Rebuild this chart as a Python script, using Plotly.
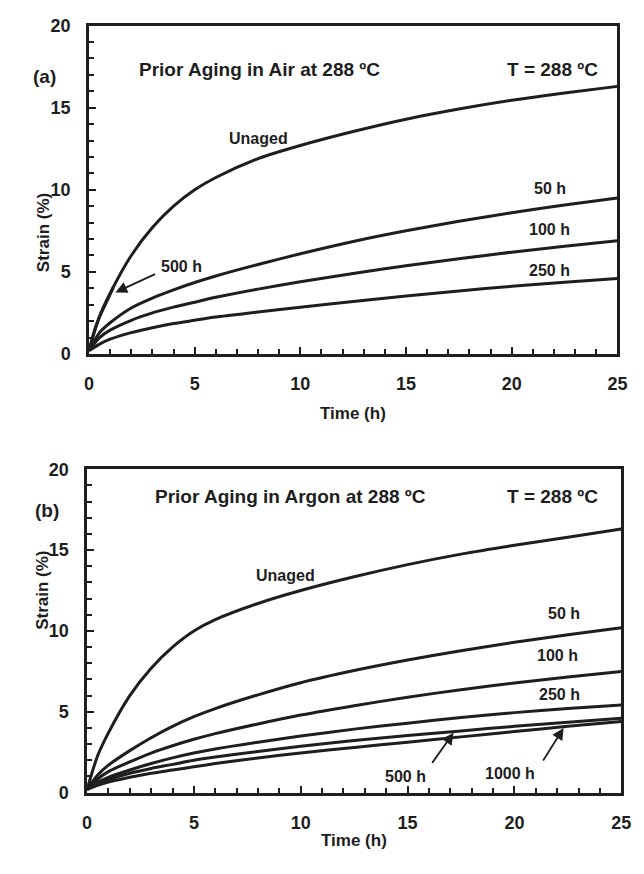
import plotly.graph_objects as go

# ---------------- data (a) Prior aging in air ----------------
t_a = [0, 0.5, 1, 2, 3, 4, 5, 6, 8, 10, 12.5, 15, 17.5, 20, 22.5, 25]
s_a_unaged = [0.2, 2.3, 3.7, 6.0, 7.7, 9.0, 10.0, 10.75, 11.9, 12.7, 13.55, 14.3, 14.92, 15.45, 15.9, 16.3]
s_a_50 = [0.2, 1.3, 1.9, 2.8, 3.4, 3.9, 4.35, 4.75, 5.45, 6.1, 6.85, 7.5, 8.08, 8.6, 9.07, 9.5]
s_a_100 = [0.2, 1.0, 1.45, 2.05, 2.5, 2.85, 3.15, 3.45, 3.95, 4.4, 4.9, 5.37, 5.8, 6.2, 6.56, 6.9]
s_a_250 = [0.2, 0.6, 0.9, 1.3, 1.6, 1.85, 2.05, 2.25, 2.55, 2.85, 3.2, 3.53, 3.84, 4.12, 4.37, 4.6]

t_a_500 = [0, 0.3, 0.6, 0.9, 1.15]
s_a_500 = [0.2, 1.6, 2.55, 3.35, 4.05]

# ---------------- data (b) Prior aging in argon ----------------
t_b = [0, 0.5, 1, 2, 3, 4, 5, 6, 8, 10, 12.5, 15, 17.5, 20, 22.5, 25]
s_b_unaged = [0.2, 2.3, 3.7, 6.0, 7.7, 9.0, 10.0, 10.7, 11.7, 12.5, 13.35, 14.1, 14.75, 15.3, 15.8, 16.3]
s_b_50 = [0.2, 1.1, 1.7, 2.6, 3.4, 4.1, 4.7, 5.2, 6.05, 6.8, 7.55, 8.2, 8.78, 9.3, 9.77, 10.2]
s_b_100 = [0.2, 0.85, 1.3, 1.9, 2.45, 2.9, 3.3, 3.65, 4.25, 4.8, 5.38, 5.9, 6.37, 6.78, 7.15, 7.5]
s_b_250 = [0.2, 0.65, 0.95, 1.4, 1.8, 2.15, 2.45, 2.7, 3.12, 3.5, 3.93, 4.3, 4.65, 4.95, 5.2, 5.42]
s_b_500 = [0.2, 0.55, 0.8, 1.2, 1.5, 1.75, 2.0, 2.2, 2.55, 2.87, 3.22, 3.53, 3.82, 4.1, 4.36, 4.6]
s_b_1000 = [0.2, 0.45, 0.65, 0.95, 1.2, 1.4, 1.6, 1.8, 2.15, 2.46, 2.8, 3.12, 3.45, 3.78, 4.1, 4.4]

x_ticks = [0, 5, 10, 15, 20, 25]
y_ticks = [0, 5, 10, 15, 20]

FONT = "Liberation Sans, Arial, sans-serif"
INK = "#1e1e1e"
W, H = 644, 874

fig = go.Figure()

def add_curves(ts, ss, xa, ya):
    for t, s in zip(ts, ss):
        fig.add_trace(go.Scatter(x=t, y=s, mode="lines", xaxis=xa, yaxis=ya,
                                 line=dict(color=INK, width=3, shape="spline", smoothing=0.8),
                                 showlegend=False, hoverinfo="skip"))

add_curves([t_a, t_a, t_a, t_a, t_a_500],
           [s_a_unaged, s_a_50, s_a_100, s_a_250, s_a_500], "x", "y")
add_curves([t_b] * 6,
           [s_b_unaged, s_b_50, s_b_100, s_b_250, s_b_500, s_b_1000], "x2", "y2")

def axis_common(rng, vals):
    return dict(range=rng, tickvals=vals,
                ticks="inside", ticklen=7, tickwidth=2, tickcolor=INK,
                minor=dict(dtick=1, ticks="inside", ticklen=5, tickwidth=2, tickcolor=INK),
                showline=True, linewidth=2.5, linecolor=INK, mirror=True,
                showgrid=False, zeroline=False,
                tickfont=dict(family=FONT, size=18, color=INK, weight="bold"),
                ticklabelstandoff=12)

top_dom = [1 - 352 / H, 1 - 16 / H]
bot_dom = [1 - 801 / H, 1 - 470 / H]
fig.update_layout(
    width=W, height=H, margin=dict(l=0, r=0, t=0, b=0),
    plot_bgcolor="white", paper_bgcolor="white",
    xaxis=dict(domain=[86 / W, 627 / W], anchor="y", **axis_common([0, 25], x_ticks)),
    yaxis=dict(domain=top_dom, anchor="x", **axis_common([0, 20], y_ticks)),
    xaxis2=dict(domain=[84 / W, 631 / W], anchor="y2", **axis_common([0, 25], x_ticks)),
    yaxis2=dict(domain=bot_dom, anchor="x2", **axis_common([0, 20], y_ticks)),
)

ann = []

def txt(x, y, s, xref, yref, size=16, **kw):
    ann.append(dict(x=x, y=y, xref=xref, yref=yref, text=s, showarrow=False,
                    font=dict(family=FONT, size=size, color=INK, weight="bold"), **kw))

def arrow(x0, y0, x1, y1, xref, yref):
    ann.append(dict(x=x1, y=y1, ax=x0, ay=y0, xref=xref, yref=yref, axref=xref, ayref=yref,
                    text="", showarrow=True, arrowhead=2, arrowsize=1.3, arrowwidth=1.8,
                    arrowcolor=INK))

# panel (a)
txt(8.0, 13.1, "Unaged", "x", "y")
txt(21.8, 10.1, "50 h", "x", "y")
txt(21.8, 7.6, "100 h", "x", "y")
txt(21.8, 5.1, "250 h", "x", "y")
txt(4.4, 5.3, "500 h", "x", "y")
arrow(3.2, 4.9, 1.25, 3.75, "x", "y")
txt(135 / W, 1 - 48 / H, "Prior Aging in Air at 288 ºC", "paper", "paper", size=19, xanchor="left")
txt(609 / W, 1 - 48 / H, "T = 288 ºC", "paper", "paper", size=19, xanchor="right")
txt(27 / W, 1 - 55 / H, "(a)", "paper", "paper", size=19)

# panel (b)
txt(9.3, 13.4, "Unaged", "x2", "y2")
txt(22.3, 11.1, "50 h", "x2", "y2")
txt(22.0, 8.5, "100 h", "x2", "y2")
txt(22.1, 6.1, "250 h", "x2", "y2")
txt(14.9, 1.0, "500 h", "x2", "y2")
txt(19.8, 1.2, "1000 h", "x2", "y2")
arrow(16.1, 1.75, 17.15, 3.7, "x2", "y2")
arrow(21.3, 1.9, 22.3, 4.0, "x2", "y2")
txt(152 / W, 1 - 498 / H, "Prior Aging in Argon at 288 ºC", "paper", "paper", size=19, xanchor="left")
txt(609 / W, 1 - 498 / H, "T = 288 ºC", "paper", "paper", size=19, xanchor="right")
txt(29 / W, 1 - 512 / H, "(b)", "paper", "paper", size=19)

# axis titles
txt(27 / W, 1 - 185 / H, "Strain (%)", "paper", "paper", size=17, textangle=-90)
txt(27 / W, 1 - 636 / H, "Strain (%)", "paper", "paper", size=17, textangle=-90)
txt((86 + 627) / 2 / W, 1 - 413 / H, "Time (h)", "paper", "paper", size=17)
txt((84 + 631) / 2 / W, 1 - 862 / H, "Time (h)", "paper", "paper", size=17)

fig.update_layout(annotations=ann)
fig.write_html("out.html")
